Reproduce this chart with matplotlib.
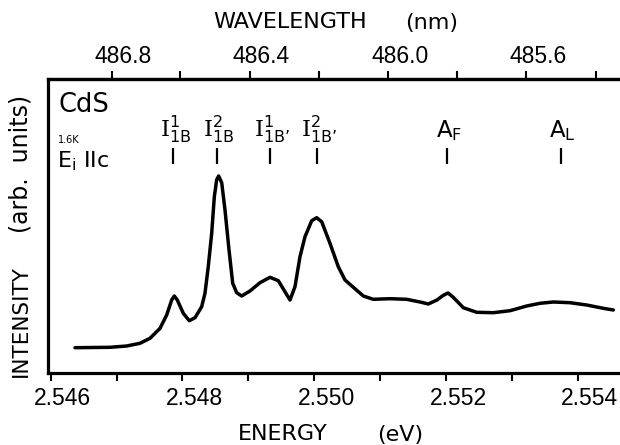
import numpy as np
import matplotlib
matplotlib.use("Agg")
import matplotlib.pyplot as plt
import matplotlib.transforms as mtransforms

plt.rcParams['mathtext.fontset'] = 'custom'
plt.rcParams['mathtext.rm'] = 'DejaVu Sans'
plt.rcParams['mathtext.it'] = 'DejaVu Sans'
plt.rcParams['mathtext.tt'] = 'DejaVu Serif'

# ---- data ----
energy_eV = [2.546369, 2.546900, 2.547153, 2.547355, 2.547507, 2.547659, 2.547760, 2.547836,
             2.547876, 2.547921, 2.548012, 2.548103, 2.548190, 2.548291, 2.548341, 2.548391,
             2.548443, 2.548483, 2.548519, 2.548549, 2.548595, 2.548645, 2.548706, 2.548762,
             2.548822, 2.548898, 2.549024, 2.549176, 2.549328, 2.549454, 2.549555, 2.549631,
             2.549707, 2.549783, 2.549859, 2.549961, 2.550036, 2.550112, 2.550238, 2.550364,
             2.550466, 2.550592, 2.550744, 2.550895, 2.551149, 2.551402, 2.551604, 2.551730,
             2.551862, 2.551953, 2.552029, 2.552109, 2.552261, 2.552464, 2.552716, 2.552970,
             2.553223, 2.553425, 2.553627, 2.553880, 2.554134, 2.554385, 2.554537]
intensity = [25.0, 25.4, 26.7, 29.4, 34.4, 44.4, 57.7, 72.7, 76.7, 72.7,
             59.4, 52.0, 55.0, 66.0, 79.4, 106.0, 139.4, 176.0, 193.0, 196.7,
             190.0, 162.7, 122.7, 89.4, 80.0, 76.7, 81.7, 90.0, 95.4, 92.0,
             81.0, 72.7, 86.0, 116.0, 136.0, 152.0, 155.0, 151.0, 129.4, 106.0,
             92.7, 85.4, 76.7, 73.4, 74.0, 73.4, 70.7, 68.7, 72.7, 77.2,
             79.7, 75.4, 65.0, 60.4, 60.0, 62.0, 66.7, 69.4, 70.7, 70.0,
             67.7, 64.4, 62.7]

line_energies = [2.54786, 2.54852, 2.54933, 2.55004, 2.55201, 2.55374]
line_labels = [r"$\mathtt{I}^{1}_{\mathrm{1B}}$", r"$\mathtt{I}^{2}_{\mathrm{1B}}$",
               r"$\mathtt{I}^{1}_{\mathrm{1B’}}$", r"$\mathtt{I}^{2}_{\mathrm{1B’}}$",
               r"$\mathrm{A}_{\mathrm{F}}$", r"$\mathrm{A}_{\mathrm{L}}$"]

energy_ticks = [2.546, 2.547, 2.548, 2.549, 2.550, 2.551, 2.552, 2.553, 2.554]
energy_ticklabels = ["2.546", "", "2.548", "", "2.550", "", "2.552", "", "2.554"]
wl_ticks = [486.8, 486.6, 486.4, 486.2, 486.0, 485.8, 485.6, 485.4]
wl_ticklabels = ["486.8", "", "486.4", "", "486.0", "", "485.6", ""]
HC = 1239.842  # eV nm

W, H = 620, 445
fig = plt.figure(figsize=(6.2, 4.45), dpi=100)
ax = fig.add_axes([48.3 / W, 1 - 372.7 / H, 1 - 48.3 / W, (372.7 - 79.3) / H])

ax.plot(energy_eV, intensity, color='black', lw=2.5, solid_capstyle='round',
        solid_joinstyle='round')
ax.set_xlim(2.5459636, 2.554639)
ax.set_ylim(0, 293.4)

# marker lines and labels
ax.vlines(line_energies, 208.7, 224.5, color='black', lw=1.6)
for e, lab in zip(line_energies, line_labels):
    ax.text(e + 0.00003, 236, lab, ha='center', va='baseline', fontsize=16.5,
            color='black')

for s in ['left', 'bottom', 'top']:
    ax.spines[s].set_linewidth(2.3)
ax.spines['right'].set_visible(False)
ax.set_yticks([])
ax.set_xticks(energy_ticks, energy_ticklabels)
ax.tick_params(axis='x', direction='out', length=6, width=1.5, pad=4,
               labelsize=16.5)
for lab in ax.get_xticklabels():
    lab.set_fontfamily('Liberation Sans')

sec = ax.secondary_xaxis('top', functions=(lambda e: HC / e, lambda l: HC / l))
sec.set_xticks(wl_ticks, wl_ticklabels)
sec.tick_params(axis='x', direction='out', length=6, width=1.5, pad=2,
                labelsize=16.5)
sec.spines['top'].set_linewidth(2.3)
for lab in sec.get_xticklabels():
    lab.set_fontfamily('Liberation Sans')

# shift tick labels slightly right as in reference
off = mtransforms.ScaledTranslation(0.12, 0, fig.dpi_scale_trans)
for lab in ax.get_xticklabels() + sec.get_xticklabels():
    lab.set_transform(lab.get_transform() + off)

def ftext(x, y, s, **kw):
    fig.text(x / W, 1 - y / H, s, **kw)

ftext(290.5, 22.5, "WAVELENGTH", ha='center', va='center', fontsize=16)
ftext(432, 22.5, "(nm)", ha='center', va='center', fontsize=16)
ftext(282.5, 434.5, "ENERGY", ha='center', va='center', fontsize=16)
ftext(400.5, 434.5, "(eV)", ha='center', va='center', fontsize=16)
ftext(20.5, 321, "INTENSITY", ha='center', va='center', rotation=90, fontsize=15.5)
ftext(20.5, 164, "(arb.  units)", ha='center', va='center', rotation=90, fontsize=17)

ftext(59, 112, "CdS", ha='left', va='baseline', fontsize=18.5)
ftext(58, 143, "1.6K", ha='left', va='baseline', fontsize=7)
ftext(57, 167.3, r"E$_\mathrm{i}$ IIc", ha='left', va='baseline', fontsize=16)

fig.savefig("out.png", dpi=100)
